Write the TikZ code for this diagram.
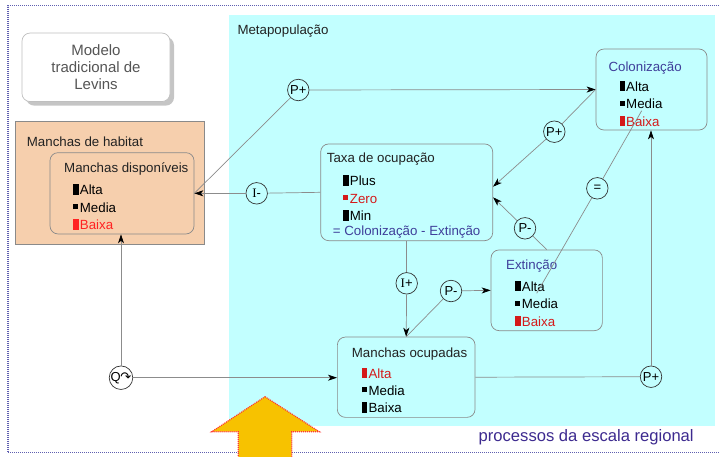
\documentclass[tikz,border=0pt]{standalone}
\usepackage{fontspec}
\setmainfont{Liberation Sans}
\newfontfamily\symfont{DejaVu Sans}
\newfontfamily\serfont{Liberation Serif}
\usepackage{xcolor}
\usepackage{tikz}
\usetikzlibrary{arrows.meta,shadows}
\definecolor{cyanbg}{HTML}{C2FFFF}
\definecolor{peach}{HTML}{F6CFAD}
\definecolor{edgec}{HTML}{8A8A8A}
\definecolor{linec}{HTML}{8C8C8C}
\definecolor{bluet}{HTML}{3F3F9A}
\definecolor{redt}{HTML}{D41A1A}
\definecolor{redb}{HTML}{FF2222}
\definecolor{framec}{HTML}{5F5FB0}
\definecolor{gold}{HTML}{F7C200}
\definecolor{greyt}{HTML}{555555}
\definecolor{darkt}{HTML}{222222}
\definecolor{regc}{HTML}{3D2A8F}
\newcommand{\barhi}{\rule{5.5pt}{10.5pt}\hspace{1.2pt}}
\newcommand{\barlo}{\raisebox{3pt}{\rule{5pt}{5pt}}\hspace{1.7pt}}
\tikzset{
  ar/.style={-{Stealth[length=9pt,width=6pt,inset=2.5pt,color=black]},linec,line width=0.7pt},
  ln/.style={linec,line width=0.7pt},
  box/.style={draw=edgec,line width=0.7pt,rounded corners=8pt,inner sep=0pt},
  ttl/.style={anchor=base west,inner sep=0pt,font=\fontsize{13.3}{16}\selectfont,text=darkt},
  lst/.style={anchor=north west,align=left,inner sep=0pt,font=\fontsize{13.3}{17.4}\selectfont,text=black},
  nd/.style={circle,draw=black!80,line width=0.7pt,minimum size=21.5pt,inner sep=0pt,font=\fontsize{13}{13}\selectfont}
}
\begin{document}
\begin{tikzpicture}[x=1pt,y=-1pt]
\useasboundingbox (0,0) rectangle (719,456);
% fundo
\fill[cyanbg] (229.3,15) rectangle (715,426);
\draw[framec,line width=1.3pt,dash pattern=on 1pt off 1pt] (719,5.7) -- (8,5.7) -- (8,452.7) -- (719,452.7);
\node[ttl] (meta) at (237.3,34.5) {Metapopulação};

% Levins
\node[box,fill=white,draw=black!25,minimum width=148pt,minimum height=68.5pt,
  drop shadow={shadow xshift=4pt,shadow yshift=-4pt,fill=black!45},
  align=center,text=greyt,font=\fontsize{15}{16.7}\selectfont] (lev) at (96,67.3) {Modelo\\tradicional de\\Levins};

% habitat
\node[box,fill=peach,rounded corners=0pt,minimum width=188.6pt,minimum height=122.6pt] (hab) at (110,183) {};
\node[ttl] (habT) at (26.7,146.5) {Manchas de habitat};
\node[box,minimum width=144pt,minimum height=81.3pt] (disp) at (122,193.3) {};
\node[ttl] (dispT) at (64,172.8) {Manchas disponíveis};
\node[lst] (dispL) at (73,184) {\barhi Alta\\ \barlo Media\\ \textcolor{redb}{\barhi Baixa}};

% taxa
\node[box,minimum width=172pt,minimum height=96.7pt] (taxa) at (406.7,192.3) {};
\node[ttl] (taxaT) at (326.7,162.8) {Taxa de ocupação};
\node[lst] (taxaL) at (343,175) {\barhi Plus\\ \textcolor{redt}{\barlo Zero}\\ \barhi Min};
\node[ttl,text=bluet] (taxaF) at (332.7,235.8) {= Colonização - Extinção};

% colonizacao
\node[box,minimum width=111pt,minimum height=81pt] (col) at (651.5,89.5) {};
\node[ttl,text=bluet] (colT) at (608.3,71.5) {Colonização};
\node[lst] (colL) at (619.3,80.7) {\barhi Alta\\ \barlo Media\\ \textcolor{redt}{\barhi Baixa}};

% extincao
\node[box,minimum width=111.3pt,minimum height=80.7pt] (ext) at (546.7,290.3) {};
\node[ttl,text=bluet] (extT) at (506,269.8) {Extinção};
\node[lst] (extL) at (515,280.7) {\barhi Alta\\ \barlo Media\\ \textcolor{redt}{\barhi Baixa}};

% ocupadas
\node[box,minimum width=137.7pt,minimum height=80.3pt] (ocup) at (406.2,377.2) {};
\node[ttl] (ocupT) at (351.7,357.1) {Manchas ocupadas};
\node[lst] (ocupL) at (361.7,367.3) {\textcolor{redt}{\barhi Alta}\\ \barlo Media\\ \barhi Baixa};

% nos
\node[nd] (pTop) at (298.3,90) {P+};
\node[nd] (pCol) at (554.3,131.7) {P+};
\node[nd] (iMin) at (256.7,193.3) {{\serfont I}-};
\node[nd] (eqC) at (597.3,188.3) {=};
\node[nd] (pExt) at (525,228.3) {P-};
\node[nd] (iPlus) at (406.7,283.3) {{\serfont I}+};
\node[nd] (pOcc) at (451,291) {P-};
\node[nd] (qIn) at (121,377.7) {Q{\symfont\kern-0.5pt↷}};
\node[nd] (pBot) at (651,376.7) {P+};
\coordinate (eqA) at (641.7,110.7);
\coordinate (eqB) at (536.7,293.3);

% ligacoes
\draw[ln] (disp.east) -- (pTop);
\draw[ar] (pTop) -- (col.west);
\draw[ln] (taxa.west) -- (iMin);
\draw[ar] (iMin) -- (disp.east);
\draw[ln] (col.west) -- (pCol);
\draw[ar] (pCol) -- ([yshift=5.6pt]taxa.east);
\draw[ln] (ext.north) -- (pExt);
\draw[ar] (pExt) -- ([yshift=-5pt]taxa.east);
\draw[ln] (eqA) -- (eqC);
\draw[ln] (eqC) -- (eqB);
\draw[ln] (taxa.south) -- (iPlus);
\draw[ar] (iPlus) -- (ocup.north);
\draw[ln] (ocup.north) -- (pOcc);
\draw[ar] (pOcc) -- (ext.west);
\draw[ar] (qIn) -- (qIn |- disp.south);
\draw[ar] (qIn) -- (qIn -| ocup.west);
\draw[ln] (ocup.east) -- (pBot);
\draw[ar] (pBot) -- (pBot |- col.south);

% seta amarela
\draw[fill=gold,draw=red!80,line width=1.2pt,dash pattern=on 1pt off 1pt]
  (265,396.7) -- (319.3,431.7) -- (291.7,431.7) -- (291.7,460) -- (238.3,460) -- (238.3,431.7) -- (211.7,431.7) -- cycle;
\node[inner sep=0pt,text=regc,font=\fontsize{16.6}{18}\selectfont] (reg) at (586.2,437.3) {processos da escala regional};
\end{tikzpicture}
\end{document}
